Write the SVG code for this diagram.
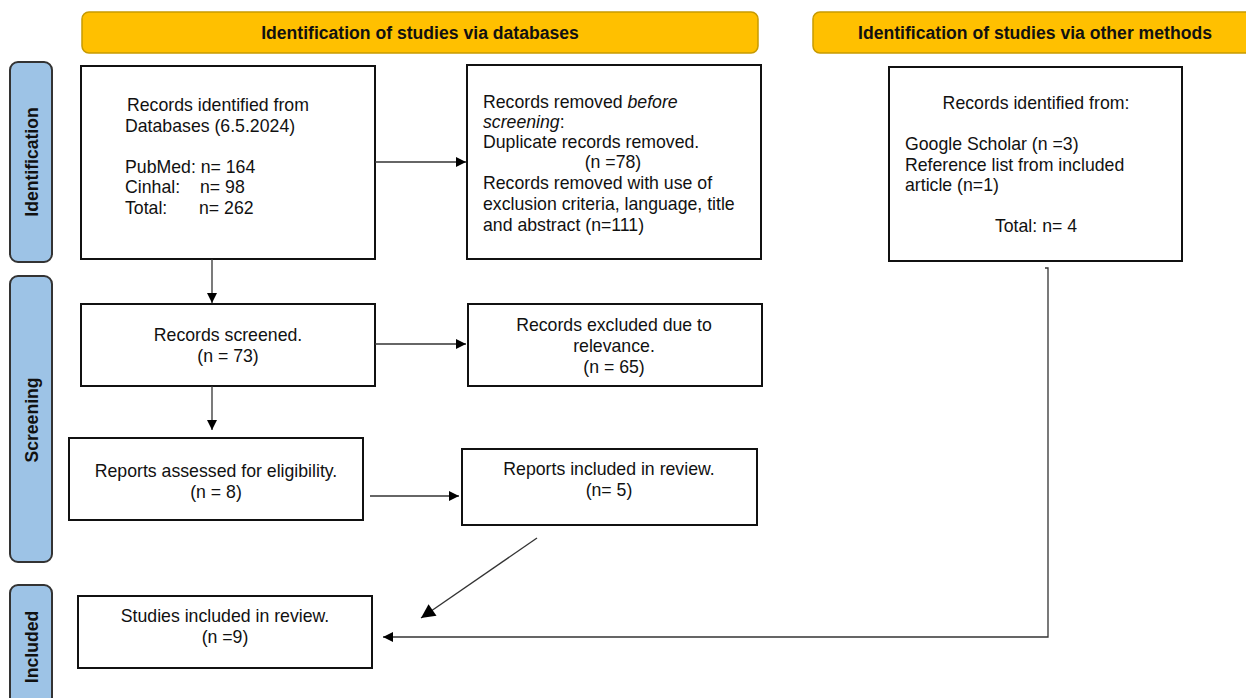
<svg xmlns="http://www.w3.org/2000/svg" width="1246" height="698" viewBox="0 0 1246 698">
<style>
text{font-family:"Liberation Sans",Arial,sans-serif;font-size:17.7px;fill:#111}
.hdr rect{fill:#FFC000;stroke:#C79A00;stroke-width:1.5}
.hdr text{font-weight:bold;font-size:17.6px;text-anchor:middle}
.side rect{fill:#9DC3E6;stroke:#333;stroke-width:2}
.side text{font-weight:bold;font-size:17.6px;text-anchor:middle}
.box rect{fill:#fff;stroke:#111;stroke-width:2}
.c{text-anchor:middle}
.conn line,.conn polyline{stroke:#333;stroke-width:1.3;fill:none}
</style>
<defs>
<marker id="ah" viewBox="0 0 10 10" refX="10" refY="5" markerWidth="11" markerHeight="10" markerUnits="userSpaceOnUse" orient="auto"><path d="M0,0 L10,5 L0,10 z" fill="#000"/></marker>
<marker id="ah2" viewBox="0 0 10 10" refX="10" refY="5" markerWidth="15" markerHeight="14" markerUnits="userSpaceOnUse" orient="auto"><path d="M0,0 L10,5 L0,10 z" fill="#000"/></marker>
</defs>
<rect width="1246" height="698" fill="#fff"/>
<g id="hdr1" class="hdr"><rect x="82" y="12" width="676" height="41" rx="7"/><text x="420" y="39">Identification of studies via databases</text></g>
<g id="hdr2" class="hdr"><rect x="813" y="12" width="460" height="41" rx="7"/><text x="1035" y="39">Identification of studies via other methods</text></g>
<g id="side1" class="side"><rect x="10" y="62" width="42" height="200" rx="8"/><text transform="translate(38,162) rotate(-90)">Identification</text></g>
<g id="side2" class="side"><rect x="10" y="276" width="42" height="286" rx="8"/><text transform="translate(38,420) rotate(-90)">Screening</text></g>
<g id="side3" class="side"><rect x="10" y="585" width="42" height="130" rx="8"/><text transform="translate(38,647) rotate(-90)">Included</text></g>
<g id="boxA" class="box"><rect x="81" y="66" width="294" height="193"/>
<text x="127" y="111">Records identified from</text>
<text x="125" y="132">Databases (6.5.2024)</text>
<text x="125" y="173">PubMed: n= 164</text>
<text x="125" y="193">Cinhal:<tspan x="200">n= 98</tspan></text>
<text x="125" y="214">Total:<tspan x="199">n= 262</tspan></text>
</g>
<g id="boxB" class="box"><rect x="467" y="65" width="294" height="194"/>
<text x="483" y="108">Records removed <tspan font-style="italic">before</tspan></text>
<text x="483" y="128"><tspan font-style="italic">screening</tspan>:</text>
<text x="483" y="148">Duplicate records removed.</text>
<text x="613" y="168" class="c">(n =78)</text>
<text x="483" y="189">Records removed with use of</text>
<text x="483" y="210">exclusion criteria, language, title</text>
<text x="483" y="231">and abstract (n=111)</text>
</g>
<g id="boxC" class="box"><rect x="889" y="67" width="293" height="194"/>
<text x="1036" y="109" class="c">Records identified from:</text>
<text x="905" y="150">Google Scholar (n =3)</text>
<text x="905" y="171">Reference list from included</text>
<text x="905" y="191">article (n=1)</text>
<text x="1036" y="232" class="c">Total: n= 4</text>
</g>
<g id="boxD" class="box"><rect x="81" y="304" width="294" height="82"/>
<text x="228" y="341" class="c">Records screened.</text>
<text x="228" y="362" class="c">(n = 73)</text>
</g>
<g id="boxE" class="box"><rect x="468" y="304" width="294" height="82"/>
<text x="614" y="331" class="c">Records excluded due to</text>
<text x="614" y="352" class="c">relevance.</text>
<text x="614" y="373" class="c">(n = 65)</text>
</g>
<g id="boxF" class="box"><rect x="69" y="438" width="294" height="82"/>
<text x="216" y="477" class="c">Reports assessed for eligibility.</text>
<text x="216" y="498" class="c">(n = 8)</text>
</g>
<g id="boxG" class="box"><rect x="462" y="449" width="295" height="76"/>
<text x="609" y="475" class="c">Reports included in review.</text>
<text x="609" y="496" class="c">(n= 5)</text>
</g>
<g id="boxH" class="box"><rect x="78" y="596" width="294" height="72"/>
<text x="225" y="622" class="c">Studies included in review.</text>
<text x="225" y="643" class="c">(n =9)</text>
</g>
<g id="connectors" class="conn">
<line x1="375" y1="162" x2="466" y2="162" marker-end="url(#ah)"/>
<line x1="212" y1="259" x2="212" y2="303" marker-end="url(#ah)"/>
<line x1="375" y1="344" x2="466" y2="344" marker-end="url(#ah)"/>
<line x1="212" y1="386" x2="212" y2="430" marker-end="url(#ah)"/>
<line x1="370" y1="496" x2="459" y2="496" marker-end="url(#ah)"/>
<line x1="537" y1="538" x2="421" y2="618" marker-end="url(#ah2)" stroke="#000"/>
<polyline points="1045,268 1048,268 1048,637 383,637" marker-end="url(#ah)"/>
</g>
</svg>
